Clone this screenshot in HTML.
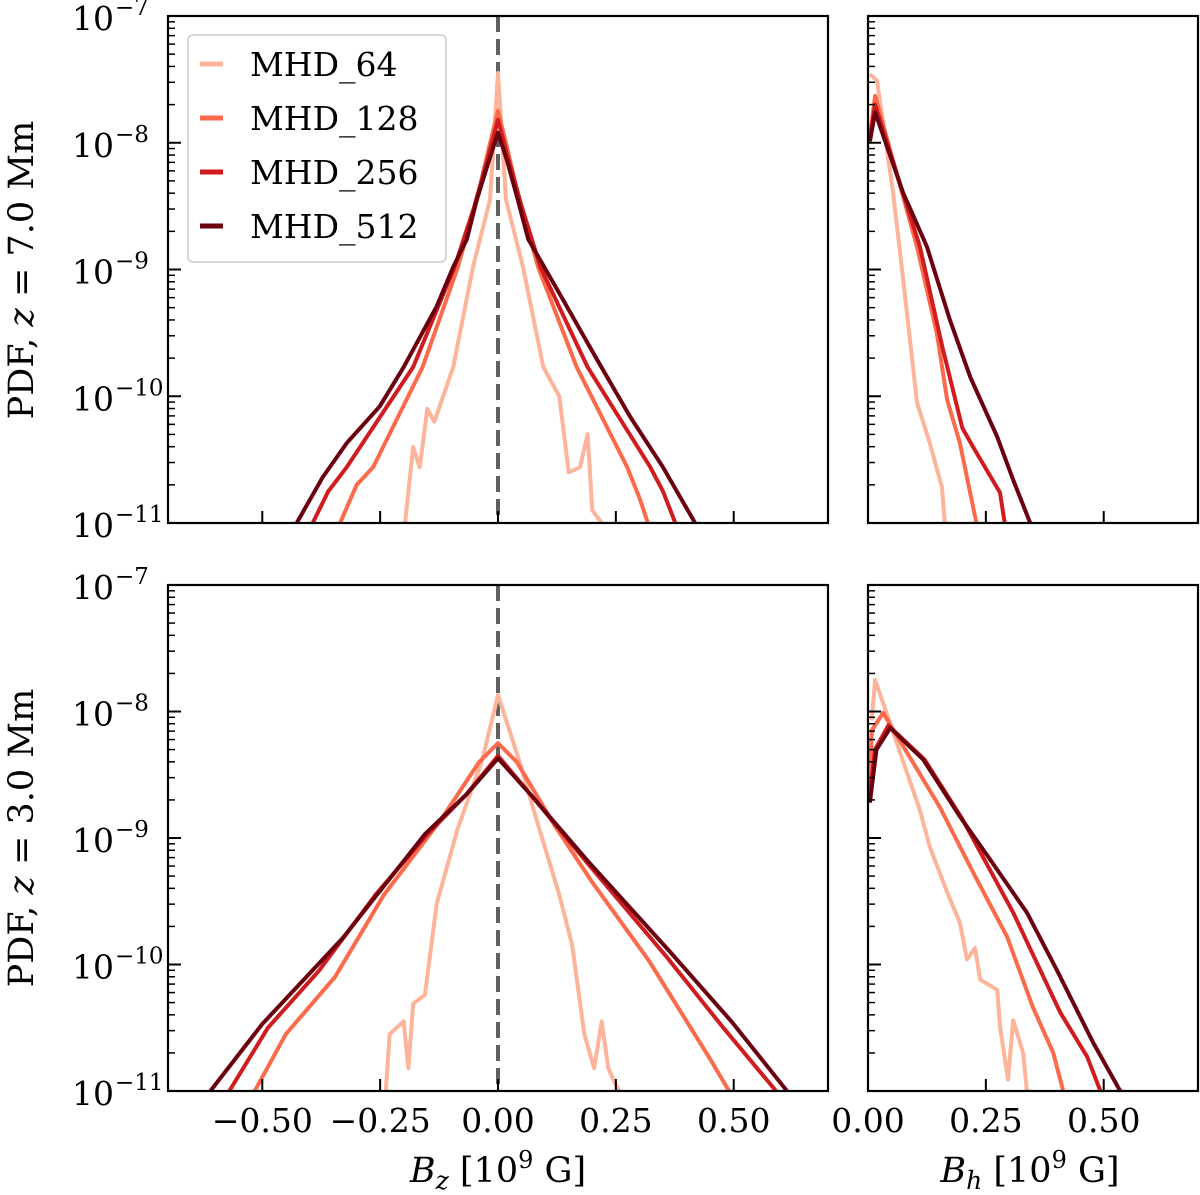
<!DOCTYPE html>
<html><head><meta charset="utf-8">
<style>
html,body{margin:0;padding:0;background:#fff;}
svg{display:block;}
text{font-family:"DejaVu Serif","Liberation Serif",serif;fill:#000;}
</style></head>
<body>
<svg id="fig" width="1200" height="1195" viewBox="0 0 1200 1195"></svg>
<script>
const seriesNames = ["MHD_64","MHD_128","MHD_256","MHD_512"];
const seriesColors = ["#fcb49a","#fb6a4a","#d01c1f","#6b010e"];
const xTicksLeft = [-0.5,-0.25,0,0.25,0.5];
const xTickLabelsLeft = ["\u22120.50","\u22120.25","0.00","0.25","0.50"];
const xTicksRight = [0,0.25,0.5];
const xTickLabelsRight = ["0.00","0.25","0.50"];
const yTickExps = [-7,-8,-9,-10,-11];

// top-left (z=7.0) Bz: x values and log10 PDF
const tlX64 = [-0.197,-0.18,-0.166,-0.15,-0.135,-0.095,-0.053,-0.017,0,0.017,0.053,0.096,0.13,0.15,0.174,0.19,0.2,0.22];
const tlY64 = [-11,-10.4,-10.56,-10.1,-10.2,-9.77,-8.98,-8.45,-7.45,-8.45,-8.98,-9.77,-10.0,-10.6,-10.56,-10.3,-10.9,-11];
const tlX128 = [-0.335,-0.3,-0.265,-0.16,-0.085,-0.045,-0.02,0,0.02,0.045,0.085,0.167,0.274,0.3,0.318];
const tlY128 = [-11,-10.7,-10.56,-9.77,-8.98,-8.45,-8.05,-7.75,-8.05,-8.45,-8.98,-9.77,-10.56,-10.8,-11];
const tlX256 = [-0.393,-0.36,-0.321,-0.18,-0.092,-0.05,-0.02,0,0.02,0.05,0.09,0.19,0.323,0.35,0.376];
const tlY256 = [-11,-10.75,-10.56,-9.77,-8.98,-8.5,-8.1,-7.82,-8.1,-8.5,-8.98,-9.77,-10.56,-10.75,-11];
const tlX512 = [-0.427,-0.372,-0.321,-0.251,-0.2,-0.13,-0.095,-0.066,-0.045,-0.02,0,0.02,0.042,0.064,0.138,0.21,0.28,0.35,0.418];
const tlY512 = [-11,-10.64,-10.37,-10.08,-9.77,-9.29,-8.98,-8.76,-8.45,-8.15,-7.92,-8.15,-8.45,-8.76,-9.24,-9.71,-10.16,-10.56,-11];
// top-right Bh
const trX64 = [0.004,0.019,0.053,0.074,0.104,0.131,0.157,0.163];
const trY64 = [-7.46,-7.51,-8.39,-9.06,-10.05,-10.37,-10.72,-11];
const trX128 = [0.004,0.015,0.104,0.146,0.168,0.195,0.23];
const trY128 = [-7.95,-7.63,-8.82,-9.5,-10.03,-10.37,-11];
const trX256 = [0.004,0.015,0.11,0.157,0.2,0.223,0.28,0.29];
const trY256 = [-7.97,-7.7,-8.82,-9.6,-10.25,-10.4,-10.76,-11];
const trX512 = [0.004,0.015,0.074,0.125,0.174,0.217,0.274,0.308,0.344];
const trY512 = [-7.99,-7.76,-8.39,-8.82,-9.4,-9.85,-10.32,-10.66,-11];
// bottom-left (z=3.0) Bz
const blX64 = [-0.238,-0.23,-0.2,-0.19,-0.18,-0.155,-0.13,-0.085,-0.034,0,0.045,0.087,0.13,0.157,0.183,0.204,0.22,0.234,0.256];
const blY64 = [-11,-10.55,-10.45,-10.82,-10.31,-10.24,-9.52,-8.92,-8.39,-7.87,-8.39,-8.92,-9.45,-9.84,-10.55,-10.82,-10.45,-10.82,-11];
const blX128 = [-0.516,-0.45,-0.346,-0.242,-0.12,-0.04,0,0.04,0.12,0.2,0.32,0.452,0.49];
const blY128 = [-11,-10.55,-10.1,-9.45,-8.85,-8.4,-8.25,-8.4,-8.9,-9.35,-9.97,-10.76,-11];
const blX256 = [-0.57,-0.488,-0.38,-0.26,-0.15,-0.068,0,0.07,0.19,0.36,0.478,0.59];
const blY256 = [-11,-10.5,-10.05,-9.45,-8.97,-8.66,-8.35,-8.66,-9.2,-9.95,-10.5,-11];
const blX512 = [-0.61,-0.5,-0.329,-0.155,-0.068,0,0.07,0.19,0.365,0.495,0.613];
const blY512 = [-11,-10.47,-9.79,-8.97,-8.66,-8.37,-8.66,-9.18,-9.9,-10.45,-11];
// bottom-right Bh
const brX64 = [0.008,0.015,0.11,0.131,0.168,0.195,0.21,0.227,0.238,0.274,0.28,0.297,0.308,0.329,0.337];
const brY64 = [-8.07,-7.75,-8.78,-9.07,-9.43,-9.67,-9.96,-9.87,-10.12,-10.2,-10.49,-10.91,-10.44,-10.7,-11];
const brX128 = [0.002,0.008,0.032,0.153,0.224,0.295,0.35,0.393,0.414];
const brY128 = [-8.7,-8.15,-8.01,-8.76,-9.28,-9.78,-10.34,-10.7,-11];
const brX256 = [0.002,0.015,0.043,0.12,0.2,0.308,0.408,0.465,0.493];
const brY256 = [-8.72,-8.3,-8.11,-8.38,-8.85,-9.59,-10.38,-10.73,-11];
const brX512 = [0.004,0.018,0.047,0.117,0.195,0.259,0.337,0.4,0.478,0.535];
const brY512 = [-8.72,-8.3,-8.13,-8.38,-8.83,-9.17,-9.59,-10.04,-10.62,-11];

const NS="http://www.w3.org/2000/svg";
const svg=document.getElementById('fig');
function mk(tag,attrs,parent){const e=document.createElementNS(NS,tag);for(const k in attrs)e.setAttribute(k,attrs[k]);(parent||svg).appendChild(e);return e;}

const panels=[
 {name:'top-left',x0:168,x1:828,y0:16,y1:523,xmin:-0.7,xmax:0.7,ticks:xTicksLeft,labels:xTickLabelsLeft,showX:false,showY:true,dash:true,
  xs:[tlX64,tlX128,tlX256,tlX512],ys:[tlY64,tlY128,tlY256,tlY512]},
 {name:'top-right',x0:868,x1:1198,y0:16,y1:523,xmin:0,xmax:0.7,ticks:xTicksRight,labels:xTickLabelsRight,showX:false,showY:false,dash:false,
  xs:[trX64,trX128,trX256,trX512],ys:[trY64,trY128,trY256,trY512]},
 {name:'bottom-left',x0:168,x1:828,y0:585,y1:1091,xmin:-0.7,xmax:0.7,ticks:xTicksLeft,labels:xTickLabelsLeft,showX:true,showY:true,dash:true,
  xs:[blX64,blX128,blX256,blX512],ys:[blY64,blY128,blY256,blY512]},
 {name:'bottom-right',x0:868,x1:1198,y0:585,y1:1091,xmin:0,xmax:0.7,ticks:xTicksRight,labels:xTickLabelsRight,showX:true,showY:false,dash:false,
  xs:[brX64,brX128,brX256,brX512],ys:[brY64,brY128,brY256,brY512]}
];

panels.forEach((p,pi)=>{
  const g=mk('g',{});
  
  
  const sx=v=>p.x0+(v-p.xmin)/(p.xmax-p.xmin)*(p.x1-p.x0);
  const sy=l=>p.y0+(-7-l)/4*(p.y1-p.y0);
  const cid='clip'+pi;
  const cp=mk('clipPath',{id:cid},g);
  mk('rect',{x:p.x0,y:p.y0,width:p.x1-p.x0,height:p.y1-p.y0},cp);
  const dg=mk('g',{'clip-path':'url(#'+cid+')'},g);
  if(p.dash){
    const d=mk('line',{x1:sx(0),x2:sx(0),y1:p.y0,y2:p.y1,stroke:'#606060','stroke-width':4,'stroke-dasharray':'16,7'},dg);
    
    
  }
  for(let s=0;s<4;s++){
    const pts=p.xs[s].map((x,i)=>sx(x).toFixed(1)+','+sy(p.ys[s][i]).toFixed(1)).join(' ');
    const pl=mk('polyline',{points:pts,fill:'none',stroke:seriesColors[s],'stroke-width':4,'stroke-linejoin':'round'},dg);
    
    
  }
  mk('rect',{x:p.x0,y:p.y0,width:p.x1-p.x0,height:p.y1-p.y0,fill:'none',stroke:'#000','stroke-width':2.2},g);
  p.ticks.forEach((t,i)=>{
    const x=sx(t);
    mk('line',{x1:x,x2:x,y1:p.y1,y2:p.y1-12,stroke:'#000','stroke-width':2},g);
    if(p.showX){
      const tx=mk('text',{x:x,y:p.y1+41,'text-anchor':'middle','font-size':33},g);
      tx.textContent=p.labels[i];
      
      
    }
  });
  yTickExps.forEach(e=>{
    const y=sy(e);
    mk('line',{x1:p.x0,x2:p.x0+13,y1:y,y2:y,stroke:'#000','stroke-width':2},g);
    if(e>-11){
      for(let k=2;k<=9;k++){
        const ym=sy(e-1+Math.log10(k));
        mk('line',{x1:p.x0,x2:p.x0+7,y1:ym,y2:ym,stroke:'#000','stroke-width':1.5},g);
      }
    }
    if(p.showY){
      const tx=mk('text',{x:114,y:y+14,'text-anchor':'end','font-size':33},g);
      tx.textContent='10';
      
      
      const sup=mk('text',{x:115,y:y-1,'text-anchor':'start','font-size':23},g);
      sup.textContent='\u2212'+(-e);
    }
  });
});

// y-axis titles
[[270,'7.0'],[838,'3.0']].forEach(([cy,z])=>{
  const t=mk('text',{x:0,y:0,transform:'translate(33,'+cy+') rotate(-90)','text-anchor':'middle','font-size':35});
  
  
  t.innerHTML='PDF,  <tspan font-style="italic">z</tspan> = '+z+' Mm';
});
// x-axis titles
[[498,'z'],[1030,'h']].forEach(([cx,s])=>{
  const t=mk('text',{x:cx,y:1182,'text-anchor':'middle','font-size':35});
  
  
  t.innerHTML='<tspan font-style="italic">B</tspan><tspan font-style="italic" font-size="25" dy="7">'+s+'</tspan><tspan dy="-7">  [10</tspan><tspan font-size="24" dy="-14">9</tspan><tspan dy="14"> G]</tspan>';
});
// legend
const lg=mk('g',{});


mk('rect',{x:188,y:35,width:258,height:227,rx:5,fill:'#fff','fill-opacity':0.85,stroke:'#ccc','stroke-width':1.5},lg);
seriesNames.forEach((n,i)=>{
  const y=64+i*54;
  const e=mk('g',{},lg);
  
  
  mk('line',{x1:200,x2:223,y1:y,y2:y,stroke:seriesColors[i],'stroke-width':5},e);
  const t=mk('text',{x:250,y:y+12,'font-size':33},e);
  t.textContent=n;
});
</script>
</body></html>
